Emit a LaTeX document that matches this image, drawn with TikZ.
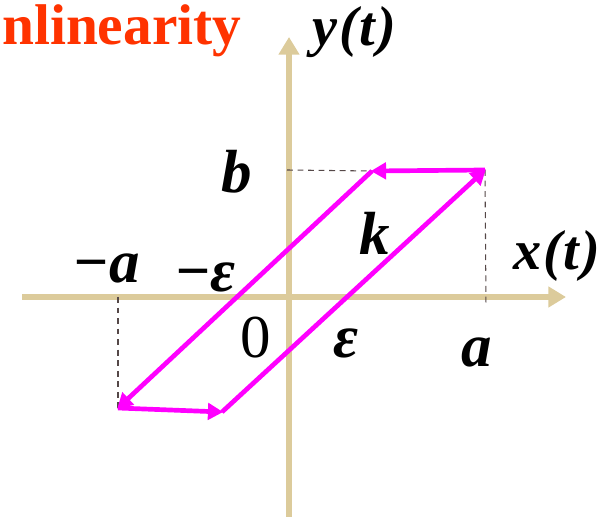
\documentclass[tikz,border=0pt]{standalone}
\usepackage{fontspec}
\setmainfont{Liberation Serif}
\usepackage{xcolor}
\usetikzlibrary{arrows.meta,positioning}

\definecolor{axistan}{HTML}{DCCB9B}
\definecolor{loopmag}{HTML}{FF00FF}
\definecolor{guidegray}{HTML}{554848}
\definecolor{titlered}{HTML}{FF3300}

\begin{document}
\begin{tikzpicture}[
        x=0.03cm, y=-0.03cm,
        axis/.style={line width=5pt, draw=axistan, -{Triangle[length=15pt, width=17pt]}},
        loop/.style={line width=4pt, draw=loopmag, -{Triangle[length=13pt, width=14pt]}, shorten >=-1pt},
        guide/.style={draw=guidegray, line width=0.9pt, dash pattern=on 5pt off 4pt},
        lbl/.style={font=\fontsize{52}{54}\selectfont\bfseries\itshape, inner sep=0pt, anchor=base},
        fn/.style={font=\fontsize{48}{50}\selectfont\bfseries\itshape, inner sep=0pt, anchor=base},
        num/.style={font=\fontsize{52}{54}\selectfont, inner sep=0pt, anchor=base},
        title/.style={font=\fontsize{49}{51}\selectfont\bfseries, text=titlered, inner sep=0pt, anchor=base west},
    ]
        \useasboundingbox (0,0) rectangle (602,517);

        % Title
        \node (title) [title] at (2,45) {nlinearity};

        % Axes
        \coordinate (xstart) at (22,297);
        \coordinate (xend) at (566,297);
        \coordinate (ystart) at (289,517);
        \coordinate (yend) at (289,37);
        \draw [axis] (xstart) -- (xend);
        \draw [axis] (ystart) -- (yend);

        % Corners of the loop
        \coordinate (tr) at (485,170);
        \coordinate (tl) at (372,171);
        \coordinate (bl) at (118,408);
        \coordinate (br) at (222,412);

        % Guide lines
        \coordinate (bmark) at (287,170);
        \coordinate (amark) at (486,306);
        \coordinate (nmark) at (118,297);
        \draw [guide] (bmark) -- (tl);
        \draw [guide] (tr) -- (amark);
        \draw [guide] (nmark) -- (bl);

        % Hysteresis loop
        \draw [loop] (tr) -- (tl);
        \draw [loop] (tl) -- (bl);
        \draw [loop] (bl) -- (br);
        \draw [loop] (br) -- (tr);

        % Labels
        \node (ylab) [fn] at (354,46) {y\kern2pt(\kern1pt t\kern2pt)};
        \node (xlab) [fn] at (557,270) {x\kern2pt(\kern1pt t\kern2pt)};
        \node (blab) [lbl] at (237,193) {b};
        \node (klab) [lbl] at (375,255) {k};
        \node (malab) [lbl] at (106,283) {−a};
        \node (melab) [lbl] at (205,292) {−ε};
        \node (zero) [num] at (256,358) {0};
        \node (elab) [lbl] at (346,358) {ε};
        \node (alab) [lbl] at (477,367) {a};

    \end{tikzpicture}
\end{document}
